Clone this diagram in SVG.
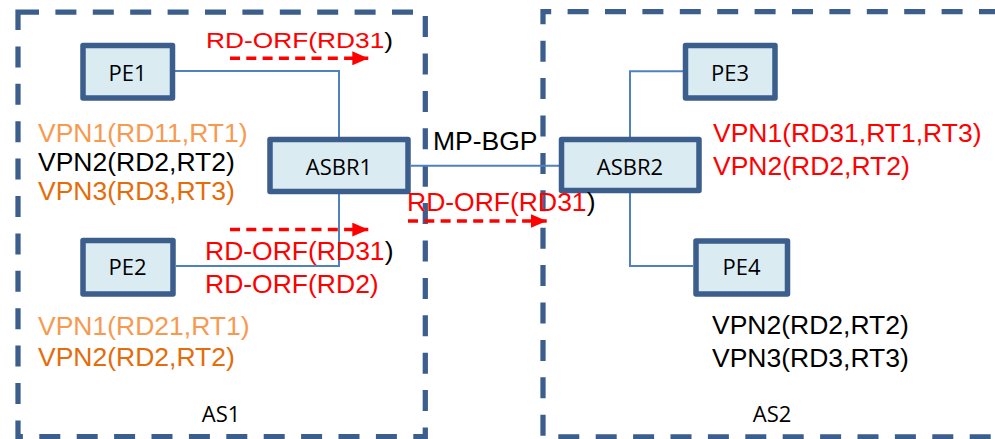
<svg xmlns="http://www.w3.org/2000/svg" width="995" height="439" viewBox="0 0 995 439">
<style>
.as{fill:none;stroke:#3B5E8C;stroke-width:5.25;stroke-dasharray:21 16.4}
.nd{fill:#DAEBF2;stroke:#3B5E8C;stroke-width:5.5;stroke-linejoin:round}
.nl{font-family:"Open Sans","Liberation Sans",sans-serif;font-size:22px;fill:#000;text-anchor:middle}
.tx{font-family:"Liberation Sans",Arial,sans-serif;font-size:26.5px}
.cn{fill:none;stroke:#4F81BD;stroke-width:2}
.ra{fill:none;stroke:#FF0000;stroke-width:3.5;stroke-dasharray:10 6.3;marker-end:url(#ah)}
.red{fill:#FF0000}.blk{fill:#000}.lor{fill:#F79A50}.dor{fill:#E46C0A}
</style>
<defs>
<marker id="ah" markerUnits="userSpaceOnUse" viewBox="0 0 16 14" refX="16" refY="7" markerWidth="16" markerHeight="14" orient="auto">
<path d="M0,0 L16,7 L0,14 Z" fill="#FF0000"/>
</marker>
</defs>
<g id="as1"><path class="as" d="M18,12 H425.3 V436.5 H18 Z"/><text class="nl" x="221" y="421.5">AS1</text></g>
<g id="as2"><path class="as" d="M1000,11.5 H543 V436.8 H1000"/><text class="nl" x="772" y="421.5">AS2</text></g>
<g id="connectors">
<path class="cn" d="M175,71 H339 V137"/>
<path class="cn" d="M176,266 H339 V194"/>
<path class="cn" d="M411,165.7 H559"/>
<path class="cn" d="M630,137 V71.3 H683"/>
<path class="cn" d="M630,193 V266 H693"/>
<line class="ra" x1="230" y1="58.3" x2="368.3" y2="58.3"/>
<line class="ra" x1="230" y1="229.6" x2="368.3" y2="229.6"/>
<line class="ra" x1="408" y1="221" x2="546.7" y2="221"/>
</g>
<g id="pe1"><rect class="nd" x="83" y="45.5" width="89.5" height="52.5"/><text class="nl" x="127.5" y="81">PE1</text></g>
<g id="pe2"><rect class="nd" x="83" y="240.5" width="90" height="53.5"/><text class="nl" x="127.5" y="275">PE2</text></g>
<g id="asbr1"><rect class="nd" x="270" y="139.5" width="138" height="52"/><text class="nl" x="339" y="175">ASBR1</text></g>
<g id="asbr2"><rect class="nd" x="561.5" y="139.5" width="137.5" height="51"/><text class="nl" x="630" y="175">ASBR2</text></g>
<g id="pe3"><rect class="nd" x="685.5" y="45.5" width="89.5" height="52.5"/><text class="nl" x="730" y="81">PE3</text></g>
<g id="pe4"><rect class="nd" x="696" y="241" width="91.5" height="53"/><text class="nl" x="741.5" y="275">PE4</text></g>
<g id="labels">
<text class="tx" transform="translate(206,47.5) scale(1.17,1)" x="0" y="0" style="font-size:22.5px"><tspan class="red">RD-ORF(RD31</tspan><tspan class="blk">)</tspan></text>
<text class="tx lor" x="38" y="142">VPN1(RD11,RT1)</text>
<text class="tx blk" x="38" y="170.5">VPN2(RD2,RT2)</text>
<text class="tx dor" x="38" y="199.5">VPN3(RD3,RT3)</text>
<text class="tx" x="205" y="260"><tspan class="red">RD-ORF(RD31</tspan><tspan class="blk">)</tspan></text>
<text class="tx red" x="205" y="293.3">RD-ORF(RD2)</text>
<text class="tx lor" x="38" y="335">VPN1(RD21,RT1)</text>
<text class="tx dor" x="38" y="365.5">VPN2(RD2,RT2)</text>
<text class="tx blk" x="433" y="150">MP-BGP</text>
<text class="tx" x="407" y="211"><tspan class="red">RD-ORF(RD31</tspan><tspan class="blk">)</tspan></text>
<text class="tx red" x="713" y="142">VPN1(RD31,RT1,RT3)</text>
<text class="tx red" x="713" y="174.5">VPN2(RD2,RT2)</text>
<text class="tx blk" x="712" y="334">VPN2(RD2,RT2)</text>
<text class="tx blk" x="712" y="367">VPN3(RD3,RT3)</text>
</g>
</svg>
